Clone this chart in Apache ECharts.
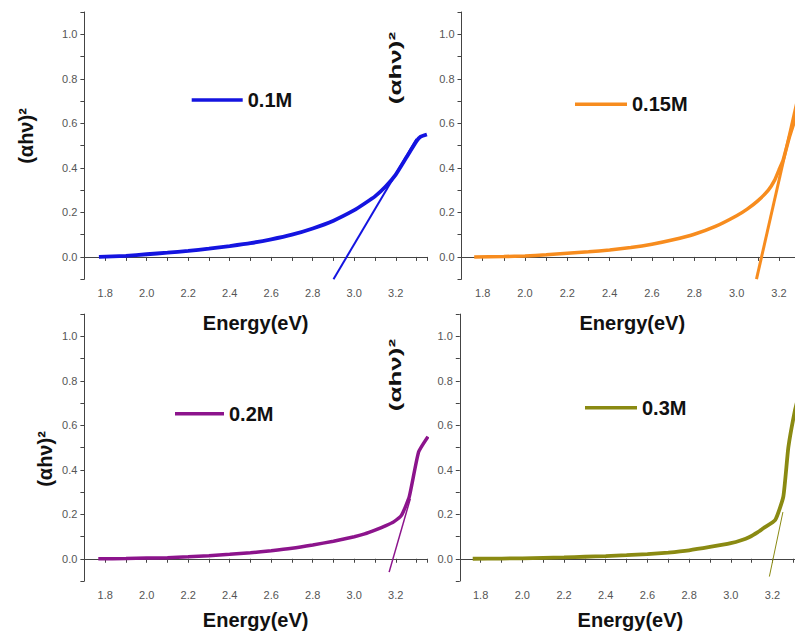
<!DOCTYPE html>
<html>
<head>
<meta charset="utf-8">
<script src="https://cdn.jsdelivr.net/npm/echarts@6/dist/echarts.min.js"></script>
<style>
html,body{margin:0;padding:0;background:#fff;}
#c{width:795px;height:632px;}
</style>
</head>
<body>
<div id="c"></div>
<script>
// ---- data ----
const seriesNames = ['0.1M', '0.15M', '0.2M', '0.3M'];

const energy1 = [1.77, 1.9, 2.0, 2.1, 2.2, 2.3, 2.4, 2.5, 2.6, 2.7, 2.8, 2.9, 3.0, 3.05, 3.1, 3.15, 3.2, 3.25, 3.3, 3.32, 3.35];
const ahv1    = [0, 0.005, 0.012, 0.019, 0.027, 0.037, 0.049, 0.062, 0.079, 0.100, 0.128, 0.163, 0.210, 0.240, 0.272, 0.315, 0.370, 0.445, 0.520, 0.540, 0.550];
const fitX1 = [2.90, 3.30];
const fitY1 = [-0.10, 0.53];

const energy2 = [1.76, 1.9, 2.0, 2.1, 2.2, 2.3, 2.4, 2.5, 2.6, 2.7, 2.8, 2.9, 3.0, 3.05, 3.1, 3.15, 3.18, 3.2, 3.22, 3.25, 3.28, 3.3];
const ahv2    = [0, 0.002, 0.004, 0.010, 0.017, 0.023, 0.031, 0.042, 0.057, 0.077, 0.102, 0.137, 0.185, 0.215, 0.252, 0.300, 0.345, 0.390, 0.435, 0.540, 0.630, 0.700];
const fitX2 = [3.094, 3.30];
const fitY2 = [-0.10, 0.76];

const energy3 = [1.767, 1.9, 2.0, 2.1, 2.2, 2.3, 2.4, 2.5, 2.6, 2.7, 2.8, 2.9, 3.0, 3.05, 3.1, 3.15, 3.19, 3.228, 3.265, 3.31, 3.355];
const ahv3    = [0, 0.001, 0.003, 0.005, 0.009, 0.014, 0.020, 0.027, 0.036, 0.047, 0.062, 0.079, 0.099, 0.112, 0.129, 0.148, 0.166, 0.196, 0.279, 0.480, 0.549];
const fitX3 = [3.168, 3.27];
const fitY3 = [-0.06, 0.27];

const energy4 = [1.762, 1.9, 2.0, 2.1, 2.2, 2.3, 2.4, 2.5, 2.6, 2.7, 2.8, 2.9, 3.0, 3.05, 3.09, 3.13, 3.156, 3.213, 3.252, 3.276, 3.308, 3.33];
const ahv4    = [0, 0.001, 0.002, 0.004, 0.006, 0.009, 0.012, 0.016, 0.021, 0.028, 0.038, 0.053, 0.070, 0.083, 0.098, 0.120, 0.137, 0.174, 0.279, 0.500, 0.668, 0.750];
const fitX4 = [3.185, 3.25];
const fitY4 = [-0.08, 0.21];

const xTitle = 'Energy(eV)';
const yTitle = '(αhν)²';

// ---- styling / layout ----
const colors = ['#1414e0', '#f78c1e', '#8c148c', '#8a8a12'];
const curveWidths = [3.8, 3.5, 3.5, 3.8];
const fitWidths = [2, 3, 1.5, 1];
const FONT = '"Liberation Sans", Arial, sans-serif';

function pairs(xs, ys) { return xs.map((x, i) => [x, ys[i]]); }
function isEven(v) {
  const t = v * 10;
  if (Math.abs(t - Math.round(t)) > 1e-6) return false;
  return Math.round(t) % 2 === 0;
}

const xMax = [3.35, 3.276, 3.35, 3.308];
const grids = [
  { left: 84.4, top: 12.0, width: 342.5, height: 267.2 },
  { left: 461.5, top: 12.0, width: 333.5, height: 267.2 },
  { left: 84.4, top: 314.1, width: 342.5, height: 266.9 },
  { left: 459.8, top: 314.1, width: 335.2, height: 266.9 }
].map(g => Object.assign({ containLabel: false, outerBoundsMode: 'none' }, g));
const nameGaps = [34, 34, 29, 29];
const namePads = [[0,0,0,0],[0,0,0,8],[0,0,0,0],[0,0,0,6]];

const data = [
  { x: energy1, y: ahv1, fx: fitX1, fy: fitY1 },
  { x: energy2, y: ahv2, fx: fitX2, fy: fitY2 },
  { x: energy3, y: ahv3, fx: fitX3, fy: fitY3 },
  { x: energy4, y: ahv4, fx: fitX4, fy: fitY4 }
];

const xAxes = grids.map((g, i) => ({
  type: 'value', gridIndex: i, min: 1.7, max: xMax[i], interval: 0.1,
  name: xTitle, nameLocation: 'middle', nameGap: nameGaps[i],
  nameTextStyle: { fontFamily: FONT, fontWeight: 'bold', fontSize: 20, color: '#111', padding: namePads[i] },
  axisLine: { show: true, lineStyle: { color: '#444', width: 1 } },
  axisTick: { show: true, length: 4, lineStyle: { color: '#444' } },
  axisLabel: { margin: 8, fontFamily: FONT, fontSize: 11, color: '#555',
    formatter: v => isEven(v) ? v.toFixed(1) : '', hideOverlap: false },
  splitLine: { show: false }
}));

const yAxes = grids.map((g, i) => ({
  type: 'value', gridIndex: i, min: -0.1, max: 1.1, interval: 0.1,
  axisLine: { show: true, lineStyle: { color: '#444', width: 1 } },
  axisTick: { show: true, length: 4, lineStyle: { color: '#444' } },
  axisLabel: { margin: 7, fontFamily: FONT, fontSize: 11, color: '#555',
    formatter: v => (isEven(v) && v > -0.05) ? v.toFixed(1) : '' },
  splitLine: { show: false }
}));

const series = [];
data.forEach((d, i) => {
  series.push({
    name: seriesNames[i], type: 'line', xAxisIndex: i, yAxisIndex: i,
    data: pairs(d.x, d.y), symbol: 'none', smooth: 0.15, clip: true,
    lineStyle: { color: colors[i], width: curveWidths[i] },
    itemStyle: { color: colors[i] }
  });
  series.push({
    name: seriesNames[i] + ' fit', type: 'line', xAxisIndex: i, yAxisIndex: i,
    data: pairs(d.fx, d.fy), symbol: 'none', clip: true,
    lineStyle: { color: colors[i], width: fitWidths[i] },
    itemStyle: { color: colors[i] }
  });
});

const legendPos = [
  { left: 191.7, top: 90, w: 51 },
  { left: 575, top: 94.3, w: 52 },
  { left: 175, top: 403.7, w: 49 },
  { left: 585, top: 397.7, w: 52 }
];
const legends = legendPos.map((p, i) => ({
  data: [seriesNames[i]], left: p.left, top: p.top, padding: 0,
  icon: 'rect', itemWidth: p.w, itemHeight: 3.5, selectedMode: false,
  textStyle: { fontFamily: FONT, fontWeight: 'bold', fontSize: 20, color: '#111', lineHeight: 20 }
}));

const yTitlePos = [
  { x: 26, y: 136, sx: 1, sy: 1 },
  { x: 396, y: 68, sx: 1.3, sy: 0.78 },
  { x: 45, y: 459, sx: 1, sy: 1 },
  { x: 396, y: 375, sx: 1.3, sy: 0.78 }
];
const graphics = yTitlePos.map(p => ({
  type: 'text', x: p.x, y: p.y, rotation: Math.PI / 2, scaleX: p.sx, scaleY: p.sy,
  style: { text: yTitle, fontFamily: FONT, fontWeight: 'bold', fontSize: 20, fill: '#111',
    align: 'center', verticalAlign: 'middle' }
}));

const chart = echarts.init(document.getElementById('c'), null, { renderer: 'svg' });
chart.setOption({
  animation: false,
  backgroundColor: '#fff',
  grid: grids,
  xAxis: xAxes,
  yAxis: yAxes,
  legend: legends,
  series: series,
  graphic: graphics
});
</script>
</body>
</html>
